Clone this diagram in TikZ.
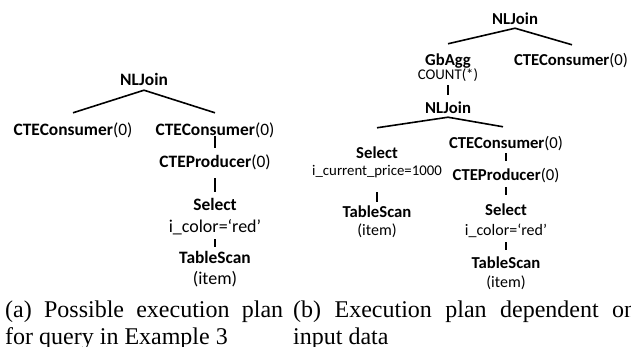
\documentclass[tikz,border=0pt]{standalone}
\usepackage{fontspec}
\setmainfont{Liberation Serif}
\newfontfamily\planfont{Carlito}
\usetikzlibrary{positioning}
\hyphenpenalty=10000
\exhyphenpenalty=10000

\begin{document}
\begin{tikzpicture}[x=1pt,y=-1pt,
  lop/.style={inner sep=0pt,text height=11.3pt,text depth=0pt,font=\planfont\fontsize{17.4}{20}\selectfont},
  ldet/.style={inner sep=0pt,text height=11.7pt,text depth=0pt,font=\planfont\fontsize{18}{21}\selectfont},
  rop/.style={inner sep=0pt,text height=10.85pt,text depth=0pt,font=\planfont\fontsize{16.7}{19}\selectfont},
  rdet/.style={inner sep=0pt,text height=10.4pt,text depth=0pt,font=\planfont\fontsize{16}{19}\selectfont},
  rsmall/.style={inner sep=0pt,text height=9.6pt,text depth=0pt,font=\planfont\fontsize{14.8}{17}\selectfont},
  link/.style={line width=1.6pt},
  stem/.style={line width=2.2pt},
  subcap/.style={inner sep=0pt,anchor=base west,text width=#1,align=justify,font=\fontsize{24}{27}\selectfont}]
    \useasboundingbox (0,0) rectangle (631,347);
    %(a)
    \node[lop] (ln) at (144,80) {\textbf{NLJoin}};
    \node[lop] (lc1) at (73,130) {\textbf{CTEConsumer}(0)};
    \node[lop] (lc2) at (215,130) {\textbf{CTEConsumer}(0)};
    \node[lop] (lp) at (215,162) {\textbf{CTEProducer}(0)};
    \node[lop] (ls) at (215,205) {\textbf{Select}};
    \node[ldet] (lsd) at (215,227) {i\_color=‘red’};
    \node[lop] (lt) at (215,258) {\textbf{TableScan}};
    \node[ldet] (li) at (215,279) {(item)};
    \draw[link] ([yshift=-4.35pt]ln.south) -- ([yshift=11.35pt]lc1.north);
    \draw[link] ([yshift=-4.35pt]ln.south) -- ([yshift=11.35pt]lc2.north);
    \draw[stem] (lc2.south) -- ([yshift=8.35pt]lp.north);
    \draw[stem] ([yshift=-10.35pt]lp.south) -- ([yshift=7.35pt]ls.north);
    \draw[stem] ([yshift=-6.15pt]lsd.south) -- ([yshift=5.35pt]lt.north);
    %(b)
    \node[rop] (rn) at (515,19) {\textbf{NLJoin}};
    \node[rop] (rg) at (448,60) {\textbf{GbAgg}};
    \node[rsmall] (rgd) at (448,75) {COUNT(*)};
    \node[rop] (rc1) at (571,60) {\textbf{CTEConsumer}(0)};
    \node[rop] (rn2) at (448,108) {\textbf{NLJoin}};
    \node[rop] (rs) at (377,153) {\textbf{Select}};
    \node[rsmall] (rsd) at (377,171) {i\_current\_price=1000};
    \node[rop] (rt) at (377,212) {\textbf{TableScan}};
    \node[rdet] (ri) at (377,230) {(item)};
    \node[rop] (rc2) at (506,143) {\textbf{CTEConsumer}(0)};
    \node[rop] (rp) at (506,175) {\textbf{CTEProducer}(0)};
    \node[rop] (rs2) at (506,210) {\textbf{Select}};
    \node[rdet] (rsd2) at (506,230) {i\_color=‘red’};
    \node[rop] (rt2) at (506,263) {\textbf{TableScan}};
    \node[rdet] (ri2) at (506,282) {(item)};
    \draw[link] ([yshift=-3.6pt]rn.south) -- ([yshift=10.6pt]rg.north);
    \draw[link] ([yshift=-3.6pt]rn.south) -- ([yshift=9.6pt,xshift=1pt]rc1.north);
    \draw[stem] ([yshift=-5.2pt]rgd.south) -- ([yshift=7.6pt]rn2.north);
    \draw[link] ([yshift=-3.6pt]rn2.south) -- ([yshift=19.6pt]rs.north);
    \draw[link] ([yshift=-3.6pt]rn2.south) -- ([yshift=10.6pt,xshift=-3pt]rc2.north);
    \draw[stem] ([yshift=-16.2pt]rsd.south) -- ([yshift=4.6pt]rt.north);
    \draw[stem] ([yshift=-4.6pt]rc2.south) -- ([yshift=8.6pt]rp.north);
    \draw[stem] ([yshift=-6.6pt]rp.south) -- ([yshift=9.6pt]rs2.north);
    \draw[stem] ([yshift=-6.8pt]rsd2.south) -- ([yshift=7.6pt]rt2.north);
    %captions
    \node[subcap=278pt] (capa) at (5,317) {(a) Possible execution plan for query in Example 3};
    \node[subcap=343pt] (capb) at (293,317) {(b) Execution plan dependent on input data};
\end{tikzpicture}
\end{document}
